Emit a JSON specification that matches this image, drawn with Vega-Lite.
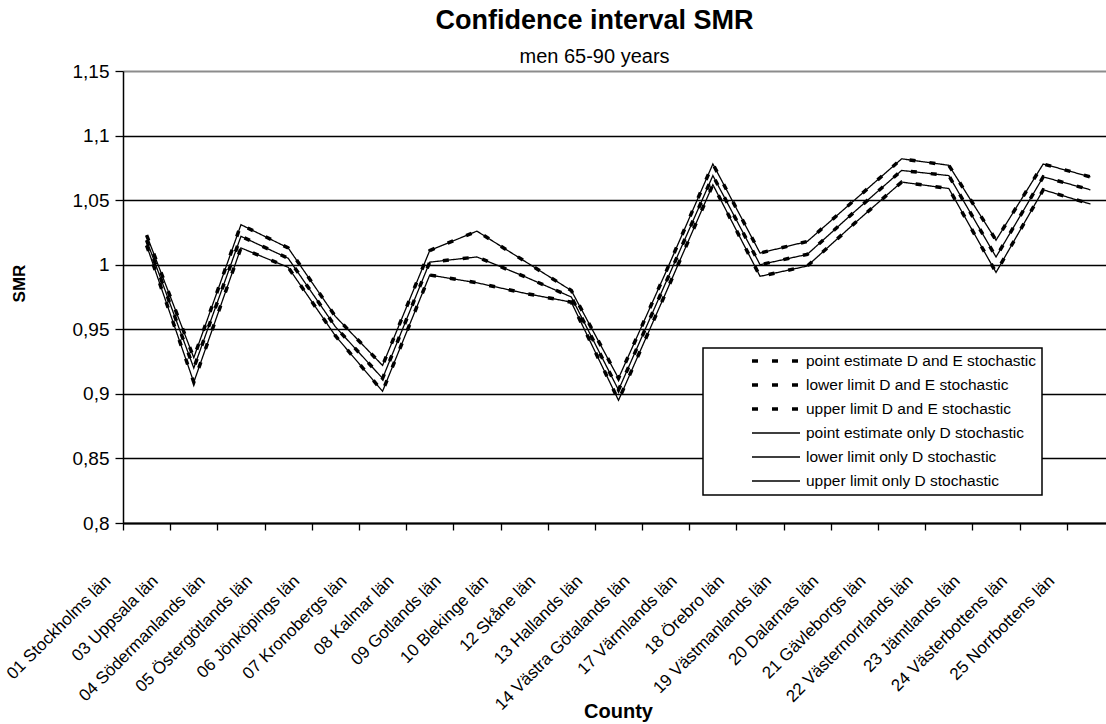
{
  "$schema": "https://vega.github.io/schema/vega-lite/v6.json",
  "width": 983,
  "height": 452,
  "autosize": "none",
  "padding": {"left": 123, "top": 71, "right": 0, "bottom": 201},
  "background": "white",
  "config": {
    "font": "Liberation Sans",
    "view": {"stroke": null},
    "legend": {
      "orient": "none",
      "legendX": 580,
      "legendY": 277,
      "symbolType": "stroke",
      "symbolSize": 2304,
      "symbolStrokeColor": "black",
      "symbolOffset": 42,
      "labelOffset": 4,
      "clipHeight": 16,
      "rowPadding": 7,
      "labelFontSize": 15.5,
      "labelFont": "Liberation Sans",
      "labelColor": "black",
      "labelLimit": 0,
      "padding": 5,
      "strokeColor": "black",
      "strokeWidth": 1.5,
      "fillColor": "white"
    }
  },
  "title": {
    "text": "Confidence interval SMR",
    "subtitle": "men 65-90 years",
    "anchor": "middle",
    "frame": "group",
    "font": "Liberation Sans",
    "fontSize": 27,
    "fontWeight": "bold",
    "color": "black",
    "subtitleFont": "Liberation Sans",
    "subtitleFontSize": 20,
    "subtitleColor": "black",
    "subtitlePadding": 12,
    "offset": -6,
    "dx": -20
  },
  "data": {
    "values": [
      {"county": "01 Stockholms län", "series": "point estimate only D stochastic", "smr": 1.019},
      {"county": "03 Uppsala län", "series": "point estimate only D stochastic", "smr": 0.920},
      {"county": "04 Södermanlands län", "series": "point estimate only D stochastic", "smr": 1.022},
      {"county": "05 Östergötlands län", "series": "point estimate only D stochastic", "smr": 1.005},
      {"county": "06 Jönköpings län", "series": "point estimate only D stochastic", "smr": 0.952},
      {"county": "07 Kronobergs län", "series": "point estimate only D stochastic", "smr": 0.912},
      {"county": "08 Kalmar län", "series": "point estimate only D stochastic", "smr": 1.002},
      {"county": "09 Gotlands län", "series": "point estimate only D stochastic", "smr": 1.006},
      {"county": "10 Blekinge län", "series": "point estimate only D stochastic", "smr": 0.991},
      {"county": "12 Skåne län", "series": "point estimate only D stochastic", "smr": 0.975},
      {"county": "13 Hallands län", "series": "point estimate only D stochastic", "smr": 0.903},
      {"county": "14 Västra Götalands län", "series": "point estimate only D stochastic", "smr": 0.986},
      {"county": "17 Värmlands län", "series": "point estimate only D stochastic", "smr": 1.069},
      {"county": "18 Örebro län", "series": "point estimate only D stochastic", "smr": 1.000},
      {"county": "19 Västmanlands län", "series": "point estimate only D stochastic", "smr": 1.008},
      {"county": "20 Dalarnas län", "series": "point estimate only D stochastic", "smr": 1.041},
      {"county": "21 Gävleborgs län", "series": "point estimate only D stochastic", "smr": 1.073},
      {"county": "22 Västernorrlands län", "series": "point estimate only D stochastic", "smr": 1.069},
      {"county": "23 Jämtlands län", "series": "point estimate only D stochastic", "smr": 1.006},
      {"county": "24 Västerbottens län", "series": "point estimate only D stochastic", "smr": 1.068},
      {"county": "25 Norrbottens län", "series": "point estimate only D stochastic", "smr": 1.058},

      {"county": "01 Stockholms län", "series": "lower limit only D stochastic", "smr": 1.015},
      {"county": "03 Uppsala län", "series": "lower limit only D stochastic", "smr": 0.909},
      {"county": "04 Södermanlands län", "series": "lower limit only D stochastic", "smr": 1.013},
      {"county": "05 Östergötlands län", "series": "lower limit only D stochastic", "smr": 0.998},
      {"county": "06 Jönköpings län", "series": "lower limit only D stochastic", "smr": 0.945},
      {"county": "07 Kronobergs län", "series": "lower limit only D stochastic", "smr": 0.902},
      {"county": "08 Kalmar län", "series": "lower limit only D stochastic", "smr": 0.992},
      {"county": "09 Gotlands län", "series": "lower limit only D stochastic", "smr": 0.986},
      {"county": "10 Blekinge län", "series": "lower limit only D stochastic", "smr": 0.978},
      {"county": "12 Skåne län", "series": "lower limit only D stochastic", "smr": 0.971},
      {"county": "13 Hallands län", "series": "lower limit only D stochastic", "smr": 0.895},
      {"county": "14 Västra Götalands län", "series": "lower limit only D stochastic", "smr": 0.978},
      {"county": "17 Värmlands län", "series": "lower limit only D stochastic", "smr": 1.062},
      {"county": "18 Örebro län", "series": "lower limit only D stochastic", "smr": 0.991},
      {"county": "19 Västmanlands län", "series": "lower limit only D stochastic", "smr": 0.999},
      {"county": "20 Dalarnas län", "series": "lower limit only D stochastic", "smr": 1.032},
      {"county": "21 Gävleborgs län", "series": "lower limit only D stochastic", "smr": 1.064},
      {"county": "22 Västernorrlands län", "series": "lower limit only D stochastic", "smr": 1.059},
      {"county": "23 Jämtlands län", "series": "lower limit only D stochastic", "smr": 0.994},
      {"county": "24 Västerbottens län", "series": "lower limit only D stochastic", "smr": 1.058},
      {"county": "25 Norrbottens län", "series": "lower limit only D stochastic", "smr": 1.047},

      {"county": "01 Stockholms län", "series": "upper limit only D stochastic", "smr": 1.023},
      {"county": "03 Uppsala län", "series": "upper limit only D stochastic", "smr": 0.928},
      {"county": "04 Södermanlands län", "series": "upper limit only D stochastic", "smr": 1.031},
      {"county": "05 Östergötlands län", "series": "upper limit only D stochastic", "smr": 1.013},
      {"county": "06 Jönköpings län", "series": "upper limit only D stochastic", "smr": 0.960},
      {"county": "07 Kronobergs län", "series": "upper limit only D stochastic", "smr": 0.922},
      {"county": "08 Kalmar län", "series": "upper limit only D stochastic", "smr": 1.011},
      {"county": "09 Gotlands län", "series": "upper limit only D stochastic", "smr": 1.026},
      {"county": "10 Blekinge län", "series": "upper limit only D stochastic", "smr": 1.003},
      {"county": "12 Skåne län", "series": "upper limit only D stochastic", "smr": 0.980},
      {"county": "13 Hallands län", "series": "upper limit only D stochastic", "smr": 0.912},
      {"county": "14 Västra Götalands län", "series": "upper limit only D stochastic", "smr": 0.994},
      {"county": "17 Värmlands län", "series": "upper limit only D stochastic", "smr": 1.078},
      {"county": "18 Örebro län", "series": "upper limit only D stochastic", "smr": 1.009},
      {"county": "19 Västmanlands län", "series": "upper limit only D stochastic", "smr": 1.018},
      {"county": "20 Dalarnas län", "series": "upper limit only D stochastic", "smr": 1.050},
      {"county": "21 Gävleborgs län", "series": "upper limit only D stochastic", "smr": 1.082},
      {"county": "22 Västernorrlands län", "series": "upper limit only D stochastic", "smr": 1.077},
      {"county": "23 Jämtlands län", "series": "upper limit only D stochastic", "smr": 1.019},
      {"county": "24 Västerbottens län", "series": "upper limit only D stochastic", "smr": 1.078},
      {"county": "25 Norrbottens län", "series": "upper limit only D stochastic", "smr": 1.068},

      {"county": "01 Stockholms län", "series": "point estimate D and E stochastic", "smr": 1.019},
      {"county": "03 Uppsala län", "series": "point estimate D and E stochastic", "smr": 0.920},
      {"county": "04 Södermanlands län", "series": "point estimate D and E stochastic", "smr": 1.022},
      {"county": "05 Östergötlands län", "series": "point estimate D and E stochastic", "smr": 1.005},
      {"county": "06 Jönköpings län", "series": "point estimate D and E stochastic", "smr": 0.952},
      {"county": "07 Kronobergs län", "series": "point estimate D and E stochastic", "smr": 0.912},
      {"county": "08 Kalmar län", "series": "point estimate D and E stochastic", "smr": 1.002},
      {"county": "09 Gotlands län", "series": "point estimate D and E stochastic", "smr": 1.006},
      {"county": "10 Blekinge län", "series": "point estimate D and E stochastic", "smr": 0.991},
      {"county": "12 Skåne län", "series": "point estimate D and E stochastic", "smr": 0.975},
      {"county": "13 Hallands län", "series": "point estimate D and E stochastic", "smr": 0.903},
      {"county": "14 Västra Götalands län", "series": "point estimate D and E stochastic", "smr": 0.986},
      {"county": "17 Värmlands län", "series": "point estimate D and E stochastic", "smr": 1.069},
      {"county": "18 Örebro län", "series": "point estimate D and E stochastic", "smr": 1.000},
      {"county": "19 Västmanlands län", "series": "point estimate D and E stochastic", "smr": 1.008},
      {"county": "20 Dalarnas län", "series": "point estimate D and E stochastic", "smr": 1.041},
      {"county": "21 Gävleborgs län", "series": "point estimate D and E stochastic", "smr": 1.073},
      {"county": "22 Västernorrlands län", "series": "point estimate D and E stochastic", "smr": 1.069},
      {"county": "23 Jämtlands län", "series": "point estimate D and E stochastic", "smr": 1.006},
      {"county": "24 Västerbottens län", "series": "point estimate D and E stochastic", "smr": 1.068},
      {"county": "25 Norrbottens län", "series": "point estimate D and E stochastic", "smr": 1.058},

      {"county": "01 Stockholms län", "series": "lower limit D and E stochastic", "smr": 1.015},
      {"county": "03 Uppsala län", "series": "lower limit D and E stochastic", "smr": 0.909},
      {"county": "04 Södermanlands län", "series": "lower limit D and E stochastic", "smr": 1.013},
      {"county": "05 Östergötlands län", "series": "lower limit D and E stochastic", "smr": 0.998},
      {"county": "06 Jönköpings län", "series": "lower limit D and E stochastic", "smr": 0.945},
      {"county": "07 Kronobergs län", "series": "lower limit D and E stochastic", "smr": 0.902},
      {"county": "08 Kalmar län", "series": "lower limit D and E stochastic", "smr": 0.992},
      {"county": "09 Gotlands län", "series": "lower limit D and E stochastic", "smr": 0.986},
      {"county": "10 Blekinge län", "series": "lower limit D and E stochastic", "smr": 0.978},
      {"county": "12 Skåne län", "series": "lower limit D and E stochastic", "smr": 0.971},
      {"county": "13 Hallands län", "series": "lower limit D and E stochastic", "smr": 0.895},
      {"county": "14 Västra Götalands län", "series": "lower limit D and E stochastic", "smr": 0.978},
      {"county": "17 Värmlands län", "series": "lower limit D and E stochastic", "smr": 1.062},
      {"county": "18 Örebro län", "series": "lower limit D and E stochastic", "smr": 0.991},
      {"county": "19 Västmanlands län", "series": "lower limit D and E stochastic", "smr": 0.999},
      {"county": "20 Dalarnas län", "series": "lower limit D and E stochastic", "smr": 1.032},
      {"county": "21 Gävleborgs län", "series": "lower limit D and E stochastic", "smr": 1.064},
      {"county": "22 Västernorrlands län", "series": "lower limit D and E stochastic", "smr": 1.059},
      {"county": "23 Jämtlands län", "series": "lower limit D and E stochastic", "smr": 0.994},
      {"county": "24 Västerbottens län", "series": "lower limit D and E stochastic", "smr": 1.058},
      {"county": "25 Norrbottens län", "series": "lower limit D and E stochastic", "smr": 1.047},

      {"county": "01 Stockholms län", "series": "upper limit D and E stochastic", "smr": 1.023},
      {"county": "03 Uppsala län", "series": "upper limit D and E stochastic", "smr": 0.928},
      {"county": "04 Södermanlands län", "series": "upper limit D and E stochastic", "smr": 1.031},
      {"county": "05 Östergötlands län", "series": "upper limit D and E stochastic", "smr": 1.013},
      {"county": "06 Jönköpings län", "series": "upper limit D and E stochastic", "smr": 0.960},
      {"county": "07 Kronobergs län", "series": "upper limit D and E stochastic", "smr": 0.922},
      {"county": "08 Kalmar län", "series": "upper limit D and E stochastic", "smr": 1.011},
      {"county": "09 Gotlands län", "series": "upper limit D and E stochastic", "smr": 1.026},
      {"county": "10 Blekinge län", "series": "upper limit D and E stochastic", "smr": 1.003},
      {"county": "12 Skåne län", "series": "upper limit D and E stochastic", "smr": 0.980},
      {"county": "13 Hallands län", "series": "upper limit D and E stochastic", "smr": 0.912},
      {"county": "14 Västra Götalands län", "series": "upper limit D and E stochastic", "smr": 0.994},
      {"county": "17 Värmlands län", "series": "upper limit D and E stochastic", "smr": 1.078},
      {"county": "18 Örebro län", "series": "upper limit D and E stochastic", "smr": 1.009},
      {"county": "19 Västmanlands län", "series": "upper limit D and E stochastic", "smr": 1.018},
      {"county": "20 Dalarnas län", "series": "upper limit D and E stochastic", "smr": 1.050},
      {"county": "21 Gävleborgs län", "series": "upper limit D and E stochastic", "smr": 1.082},
      {"county": "22 Västernorrlands län", "series": "upper limit D and E stochastic", "smr": 1.077},
      {"county": "23 Jämtlands län", "series": "upper limit D and E stochastic", "smr": 1.019},
      {"county": "24 Västerbottens län", "series": "upper limit D and E stochastic", "smr": 1.078},
      {"county": "25 Norrbottens län", "series": "upper limit D and E stochastic", "smr": 1.068}
    ]
  },
  "mark": {"type": "line", "color": "black", "strokeCap": "butt"},
  "encoding": {
    "x": {
      "field": "county",
      "type": "nominal",
      "sort": null,
      "title": "County",
      "scale": {"type": "band", "paddingInner": 0, "paddingOuter": 0, "range": [0, 991]},
      "axis": {
        "labelAngle": -45,
        "labelAlign": "right",
        "labelBaseline": "middle",
        "labelOffset": -39,
        "labelPadding": 48,
        "labelFontSize": 17,
        "labelFont": "Liberation Sans",
        "labelColor": "black",
        "labelOverlap": false,
        "labelLimit": 0,
        "tickBand": "extent",
        "tickSize": 7,
        "tickColor": "black",
        "tickWidth": 1.3,
        "domainColor": "black",
        "domainWidth": 2,
        "grid": false,
        "titleFont": "Liberation Sans",
        "titleFontSize": 20,
        "titleFontWeight": "bold",
        "titleColor": "black",
        "titleX": 495,
        "titleY": 194,
        "titleBaseline": "alphabetic",
        "titleAlign": "center"
      }
    },
    "y": {
      "field": "smr",
      "type": "quantitative",
      "title": "SMR",
      "scale": {"domain": [0.8, 1.15], "nice": false, "zero": false},
      "axis": {
        "values": [0.8, 0.85, 0.9, 0.95, 1, 1.05, 1.1, 1.15],
        "labelExpr": "replace(format(datum.value, '.2~f'), '.', ',')",
        "labelFont": "Liberation Sans",
        "labelFontSize": 19,
        "labelColor": "black",
        "labelPadding": 6,
        "tickSize": 8,
        "tickColor": "black",
        "tickWidth": 1.3,
        "domainColor": "black",
        "domainWidth": 1.5,
        "grid": true,
        "gridColor": {"condition": {"test": "datum.value >= 1.149", "value": "#8c8c8c"}, "value": "black"},
        "gridWidth": {"condition": {"test": "datum.value >= 1.149", "value": 2}, "value": 1.3},
        "titleFont": "Liberation Sans",
        "titleFontSize": 17,
        "titleFontWeight": "bold",
        "titleColor": "black",
        "titleAngle": -90,
        "titleX": -104,
        "titleY": 212,
        "titleAlign": "center",
        "titleBaseline": "middle"
      }
    },
    "strokeDash": {
      "field": "series",
      "type": "nominal",
      "title": null,
      "legend": {"labelExpr": "datum.label + '\u00a0\u00a0\u00a0\u00a0\u00a0\u00a0\u00a0\u00a0\u00a0\u00a0'"},
      "scale": {
        "domain": ["point estimate D and E stochastic", "lower limit D and E stochastic", "upper limit D and E stochastic", "point estimate only D stochastic", "lower limit only D stochastic", "upper limit only D stochastic"],
        "range": [[6, 14], [6, 14], [6, 14], [1, 0], [1, 0], [1, 0]]
      }
    },
    "strokeWidth": {
      "field": "series",
      "type": "nominal",
      "title": null,
      "legend": {"labelExpr": "datum.label + '\u00a0\u00a0\u00a0\u00a0\u00a0\u00a0\u00a0\u00a0\u00a0\u00a0'"},
      "scale": {
        "type": "ordinal",
        "domain": ["point estimate D and E stochastic", "lower limit D and E stochastic", "upper limit D and E stochastic", "point estimate only D stochastic", "lower limit only D stochastic", "upper limit only D stochastic"],
        "range": [3.5, 3.5, 3.5, 1.3, 1.3, 1.3]
      }
    }
  }
}
